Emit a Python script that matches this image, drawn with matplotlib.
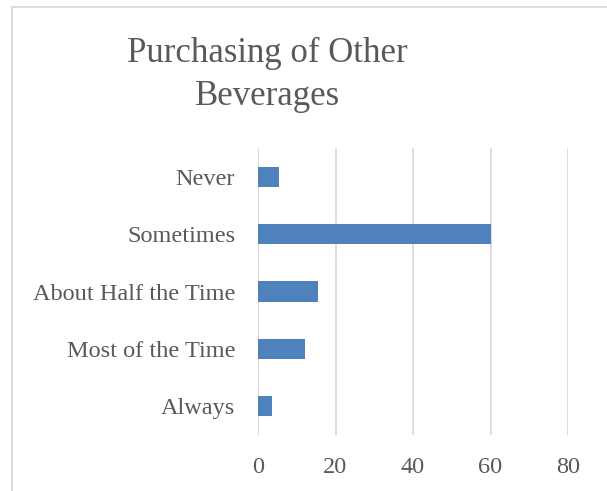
import matplotlib
matplotlib.use("Agg")
import matplotlib.pyplot as plt
from matplotlib.lines import Line2D

categories = ["Never", "Sometimes", "About Half the Time", "Most of the Time", "Always"]
values = [5.5, 60.2, 15.4, 12.0, 3.5]
x_ticks = [0, 20, 40, 60, 80]
title = "Purchasing of Other\nBeverages"

text_color = "#595959"
bar_color = "#4F81BD"
grid_color = "#D9D9D9"
font = ["Liberation Serif", "DejaVu Serif"]

W, H, DPI = 607, 491, 100
fig = plt.figure(figsize=(W / DPI, H / DPI), dpi=DPI)
fig.patch.set_facecolor("white")

# axes box in pixel coordinates
left, right, top, bottom = 258, 568, 148, 435
ax = fig.add_axes([left / W, 1 - bottom / H, (right - left) / W, (bottom - top) / H])

ypos = list(range(len(categories)))[::-1]
ax.barh(ypos, values, height=0.35, color=bar_color, zorder=3)
ax.set_ylim(-0.5, len(categories) - 0.5)
ax.set_xlim(0, 80)
ax.set_xticks(x_ticks)
ax.set_xticklabels([str(t) for t in x_ticks], family=font, fontsize=17.5, color=text_color)
ax.set_yticks(ypos)
ax.set_yticklabels(categories, family=font, fontsize=17.5, color=text_color)
ax.tick_params(axis="both", length=0)
ax.tick_params(axis="x", pad=16)
ax.tick_params(axis="y", pad=16.5)
ax.grid(axis="x", color=grid_color, linewidth=1.3, zorder=0)
for s in ax.spines.values():
    s.set_visible(False)
ax.axvline(0, color=grid_color, linewidth=1.3, zorder=1)

fig.text(267 / W, 1 - 75 / H, title, ha="center", va="center", family=font,
         fontsize=25, color=text_color, linespacing=1.38)

# chart border (top and left edges)
fig.add_artist(Line2D([12 / W, 1], [1 - 7 / H, 1 - 7 / H], color=grid_color, linewidth=1.3,
                      transform=fig.transFigure))
fig.add_artist(Line2D([12 / W, 12 / W], [1 - 7 / H, 0], color=grid_color, linewidth=1.3,
                      transform=fig.transFigure))

fig.savefig("out.png", dpi=DPI, facecolor="white")
